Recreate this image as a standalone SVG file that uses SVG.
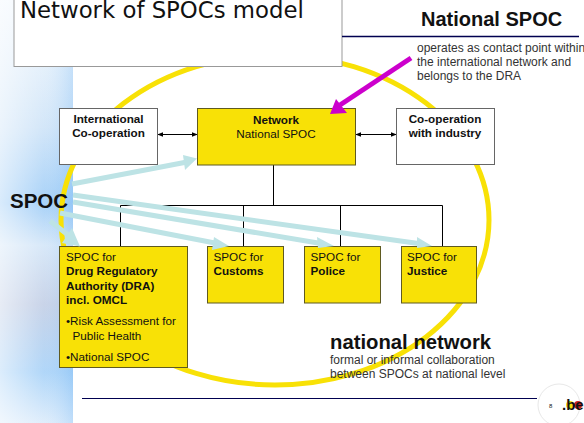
<svg xmlns="http://www.w3.org/2000/svg" width="584" height="423" viewBox="0 0 584 423">
<style>
text{font-family:"Liberation Sans",Arial,sans-serif;font-size:12px;fill:#111}
g[id^=node] text{font-size:11.700px}
.b{font-weight:bold}
.g{fill:#333}
.y{fill:#f8e106;stroke:#5f5a20;stroke-width:1}
.w{fill:#fff;stroke:#666;stroke-width:1}
.c{fill:none;stroke:#000;stroke-width:1}
.a{fill:none;stroke:#bde3e5;stroke-width:5}
.h{fill:#bde3e5}
</style>
<defs>
<linearGradient id="bg" x1="0" y1="0" x2="0" y2="1">
<stop offset="0" stop-color="#f2f8fe"/><stop offset=".14" stop-color="#e4f0fb"/><stop offset=".3" stop-color="#cfe4f8"/><stop offset=".48" stop-color="#9fcdf7"/><stop offset=".58" stop-color="#d4e6f8"/><stop offset=".72" stop-color="#c3cfe6"/><stop offset=".88" stop-color="#a8d2f8"/><stop offset="1" stop-color="#dcecfb"/>
</linearGradient>
<linearGradient id="sh" x1="0" y1="0" x2="1" y2="0"><stop offset="0" stop-color="#fff" stop-opacity=".6"/><stop offset=".6" stop-color="#fff" stop-opacity=".1"/><stop offset="1" stop-color="#6db3f5" stop-opacity=".25"/></linearGradient>
<marker id="ar" viewBox="0 0 8 8" refX="7" refY="4" markerWidth="6" markerHeight="6" orient="auto-start-reverse" markerUnits="userSpaceOnUse"><path d="M0 1L8 4L0 7Z" fill="#000"/></marker>
</defs>
<rect width="584" height="423" fill="#fff"/>
<rect id="sidebar" width="73" height="423" fill="url(#bg)"/>
<rect width="73" height="423" fill="url(#sh)"/>
<ellipse id="ring" cx="275" cy="220" rx="214" ry="165" fill="none" stroke="#f8e106" stroke-width="5"/>
<g id="title"><rect x="14" y="-5" width="328" height="71.500" fill="#fff" stroke="#999" stroke-width="1"/>
<text x="20" y="18" style="font-family:'DejaVu Sans',sans-serif;font-size:22.800px">Network of SPOCs model</text></g>
<path d="M342 36.500H579" stroke="#000050" stroke-width="1.500"/>
<path d="M82 398.500H537" stroke="#000050" stroke-width="1"/>
<g id="connectors">
<path class="c" d="M273.500 165V205.500M120.500 205.500H442.500M120.500 205.500V246M243.500 205.500V246M340.500 205.500V246M442.500 205.500V246"/>
<path class="c" marker-start="url(#ar)" marker-end="url(#ar)" d="M158 134.500H197"/>
<path class="c" marker-start="url(#ar)" marker-end="url(#ar)" d="M356 134.500H396"/>
</g>
<g id="node-international"><rect class="w" x="59.500" y="108.500" width="98" height="56"/>
<text class="b" x="108.500" y="123" text-anchor="middle">International</text><text class="b" x="108.500" y="137" text-anchor="middle">Co-operation</text></g>
<g id="node-network"><rect class="y" x="197.500" y="108.500" width="158" height="56.500"/>
<text class="b" x="276" y="124" text-anchor="middle">Network</text><text x="276" y="138" text-anchor="middle">National SPOC</text></g>
<g id="node-industry"><rect class="w" x="396.500" y="108.500" width="98" height="56"/>
<text class="b" x="445" y="123" text-anchor="middle">Co-operation</text><text class="b" x="445" y="137" text-anchor="middle">with industry</text></g>
<g id="node-dra"><rect class="y" x="59.500" y="246.500" width="128" height="121"/>
<text x="66" y="261">SPOC for</text><text class="b" x="66" y="275">Drug Regulatory</text><text class="b" x="66" y="290">Authority (DRA)</text><text class="b" x="66" y="304">incl. OMCL</text>
<text x="66" y="325">•Risk Assessment for</text><text x="72.500" y="340">Public Health</text><text x="66" y="361">•National SPOC</text></g>
<g id="node-customs"><rect class="y" x="207.500" y="246.500" width="76" height="56.500"/><text x="213.500" y="261">SPOC for</text><text class="b" x="213.500" y="275">Customs</text></g>
<g id="node-police"><rect class="y" x="304.500" y="246.500" width="76" height="56.500"/><text x="310.500" y="261">SPOC for</text><text class="b" x="310.500" y="275">Police</text></g>
<g id="node-justice"><rect class="y" x="401.500" y="246.500" width="75" height="56.500"/><text x="407" y="261">SPOC for</text><text class="b" x="407" y="275">Justice</text></g>
<g id="arrows">
<path class="a" d="M72 184L187 162"/><path class="h" d="M197 158.500L183 155L185 170Z"/>
<path class="a" d="M73 195L422 244"/><path class="h" d="M432 246L417 237L417 248Z"/>
<path class="a" d="M73 202L324 244"/><path class="h" d="M334 246L317 237L318 248Z"/>
<path class="a" d="M60 213L220 244"/><path class="h" d="M229 246L214 237L212 250Z"/>
<path class="a" d="M50 221L72 238"/><path class="h" d="M80 246.500L72 228L62 243Z"/>
<path fill="none" stroke="#cc00cc" stroke-width="5" d="M411 58L340 105"/><path fill="#cc00cc" d="M330 114L336 99L347 113Z"/>
</g>
<text class="b" style="font-size:20.500px" x="10" y="208" fill="#000">SPOC</text>
<text class="b" style="font-size:20px" x="421" y="26" fill="#000">National SPOC</text>
<g><text class="g" x="417" y="52">operates as contact point within</text><text class="g" x="417" y="66">the international network and</text><text class="g" x="417" y="80">belongs to the DRA</text></g>
<text class="b" style="font-size:20.300px" x="330" y="349" fill="#000">national network</text>
<text class="g" x="330" y="364">formal or informal collaboration</text><text class="g" x="330" y="378">between SPOCs at national level</text>
<g id="logo"><circle cx="559" cy="405" r="21" fill="#fff" stroke="#e8e8e8"/><text x="549" y="408" style="font-size:6px" fill="#b33">8</text>
<circle cx="570" cy="405" r="4" fill="#f8e106"/><circle cx="578" cy="405" r="4" fill="#c22"/><text class="b" x="562" y="410" style="font-size:15px" fill="#000">.be</text></g>
</svg>
